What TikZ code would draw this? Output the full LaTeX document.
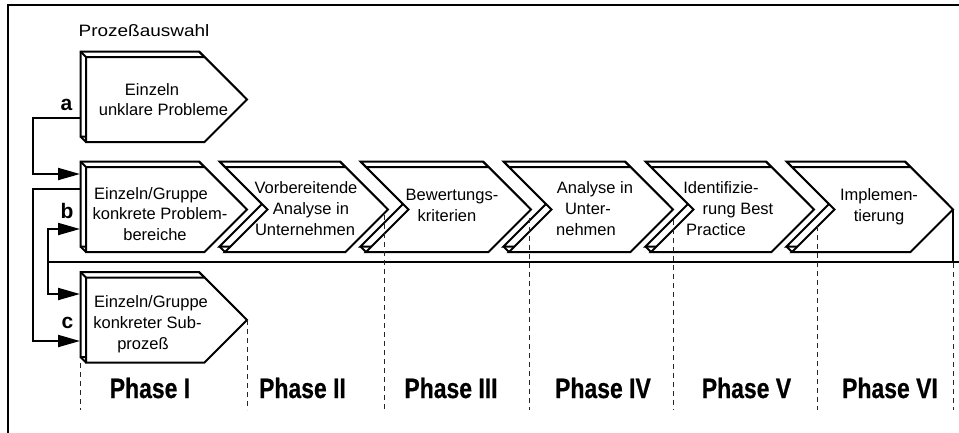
\documentclass[tikz,border=0pt]{standalone}
\usepackage{fontspec}
\setmainfont{Liberation Sans}
\newfontfamily\phasefont{Liberation Sans}[FakeStretch=0.82,FakeBold=0.6]
\usetikzlibrary{arrows.meta}

\tikzset{
  plate/.style={draw=black, fill=white, line width=2pt, line join=miter},
  edge/.style={draw=black, line width=2pt},
  wire/.style={draw=black, line width=2pt},
  feed/.style={wire, -{Triangle[length=22pt,width=12pt]}},
  phaseline/.style={draw=black!85, line width=1pt, dash pattern=on 5pt off 4pt},
  frame/.style={draw=black, line width=1.3pt},
  boxtext/.style={anchor=base, inner sep=0pt, font=\fontsize{16.5}{19}\selectfont},
  tag/.style={anchor=base, inner sep=0pt, font=\fontsize{21}{24}\selectfont\bfseries},
  phase/.style={anchor=base, inner sep=0pt, font=\phasefont\fontsize{28}{32}\selectfont\bfseries},
}

% pentagon arrow: #1 style, #2 left, #3 start of point, #4 top, #5 bottom
\newcommand\pentaplate[5]{\path[#1] (#2,#4) -- (#3,#4) -- ({#3+42.5},{(#4+#5)/2}) -- (#3,#5) -- (#2,#5) -- cycle;}
% chevron with notch on the left
\newcommand\chevplate[5]{\path[#1] (#2,#4) -- (#3,#4) -- ({#3+42.5},{(#4+#5)/2}) -- (#3,#5) -- (#2,#5) -- ({#2+42.5},{(#4+#5)/2}) -- cycle;}
% raised plate: back copy, corner edges, front face
\newcommand\raisedplate[5]{%
  \begin{scope}[shift={(-5.5,-5.5)}]#1{plate}{#2}{#3}{#4}{#5}\end{scope}
  \draw[edge] ({#2-5.5},{#4-5.5}) -- (#2,#4) ({#3-5.5},{#4-5.5}) -- (#3,#4) ({#2-5.5},{#5-5.5}) -- (#2,#5);
  #1{plate}{#2}{#3}{#4}{#5}}

\begin{document}
\begin{tikzpicture}[x=1pt,y=-1pt]
\useasboundingbox (0,0) rectangle (959,432);

% outer frame
\draw[frame] (8,440) -- (8,5) -- (965,5);

% process boxes
\raisedplate\pentaplate{86}{204.5}{57}{142}
\raisedplate\pentaplate{86}{204.5}{167}{252}
\raisedplate\pentaplate{86}{204.5}{277.5}{362.5}
\raisedplate\chevplate{225}{345.5}{167}{252}
\raisedplate\chevplate{366}{488.5}{167}{252}
\raisedplate\chevplate{509}{630.5}{167}{252}
\raisedplate\chevplate{651}{771.5}{167}{252}
\raisedplate\chevplate{792}{910.5}{167}{252}

% connection points
\coordinate (aOut) at (80,118);
\coordinate (bIn1) at (80,174);
\coordinate (bOut) at (80,189);
\coordinate (bIn2) at (80,229);
\coordinate (cIn1) at (80,294);
\coordinate (cIn2) at (80,341);
\coordinate (busL) at (48,262);
\coordinate (busR) at (965,262);
\coordinate (tipVI) at (953,209.5);

% connectors
\draw[feed] (aOut) -- ++(-47,0) |- (bIn1);
\draw[feed] (bOut) -- ++(-47,0) |- (cIn2);
\draw[feed] (busL) |- (bIn2);
\draw[feed] (busL) |- (cIn1);
\draw[wire] (busL) -- (busR);
\draw[wire] (tipVI) -- (tipVI |- busL);

% phase borders
\coordinate (p0t) at (80,363);   \coordinate (p0b) at (80,410);
\coordinate (p1t) at (247,320);  \coordinate (p1b) at (247,410);
\coordinate (p2t) at (384,215);  \coordinate (p2b) at (384,410);
\coordinate (p3t) at (529,218);  \coordinate (p3b) at (529,410);
\coordinate (p4t) at (673,220);  \coordinate (p4b) at (673,410);
\coordinate (p5t) at (817,226);  \coordinate (p5b) at (817,410);
\coordinate (p6t) at (953,263);  \coordinate (p6b) at (953,410);
\foreach \i in {0,...,6} \draw[phaseline] (p\i t) -- (p\i b);

% titles and tags
\node[boxtext] (sel) at (144,36) {\scalebox{1.15}[1]{Prozeßauswahl}};
\node[tag] (ta) at (66.5,110) {a};
\node[tag] (tb) at (67,218) {b};
\node[tag] (tc) at (67.5,328) {c};

% box labels
\node[boxtext] (a1) at (152,95) {Einzeln};
\node[boxtext] (a2) at (163.5,115) {unklare Probleme};
\node[boxtext] (b1) at (151,199) {Einzeln/Gruppe};
\node[boxtext] (b2) at (160,219) {konkrete Problem-};
\node[boxtext] (b3) at (155,240) {bereiche};
\node[boxtext] (c1) at (151,307) {Einzeln/Gruppe};
\node[boxtext] (c2) at (147.5,328) {konkreter Sub-};
\node[boxtext] (c3) at (143,349) {prozeß};
\node[boxtext] (v1) at (306,193) {Vorbereitende};
\node[boxtext] (v2) at (311,214) {Analyse in};
\node[boxtext] (v3) at (305,235) {Unternehmen};
\node[boxtext] (w1) at (452,200) {Bewertungs-};
\node[boxtext] (w2) at (447,221) {kriterien};
\node[boxtext] (u1) at (595,193) {Analyse in};
\node[boxtext] (u2) at (588,214) {Unter-};
\node[boxtext] (u3) at (586,235) {nehmen};
\node[boxtext] (i1) at (721,193) {Identifizie-};
\node[boxtext] (i2) at (738,214) {rung Best};
\node[boxtext] (i3) at (716,235) {Practice};
\node[boxtext] (m1) at (879,200) {Implemen-};
\node[boxtext] (m2) at (879,221) {tierung};

% phase names
\node[phase] (ph1) at (150,398) {Phase I};
\node[phase] (ph2) at (302.5,398) {Phase II};
\node[phase] (ph3) at (451,398) {Phase III};
\node[phase] (ph4) at (603,398) {Phase IV};
\node[phase] (ph5) at (746.5,398) {Phase V};
\node[phase] (ph6) at (890,398) {Phase VI};
\end{tikzpicture}
\end{document}
